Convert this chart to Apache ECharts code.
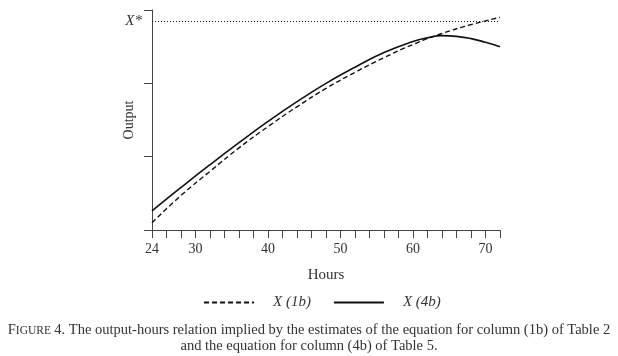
<!DOCTYPE html>
<html><head><meta charset="utf-8">
<script src="https://cdn.jsdelivr.net/npm/echarts@6/dist/echarts.min.js"></script>
<style>html,body{margin:0;padding:0;background:#fff}#c{width:618px;height:356px}</style>
</head><body><div id="c"></div>
<script>
const hoursSolid = [24,28,32,36,40,44,48,52,56,60,62,64,66,68,70,72];
const x4b = [0.26,0.58,0.89,1.19,1.48,1.75,2.00,2.22,2.42,2.57,2.62,2.65,2.64,2.61,2.56,2.50];
const hoursDashed = [24,28,32,36,40,44,48,52,56,60,64,68,72];
const x1b = [0.10,0.47,0.80,1.12,1.41,1.68,1.93,2.15,2.35,2.53,2.68,2.80,2.90];
const xStar = 2.85;
const xLabels = [24,30,40,50,60,70];
const seriesNames = ['X (1b)','X (4b)'];

const serif = '"Liberation Serif","DejaVu Serif",serif';
const chart = echarts.init(document.getElementById('c'));
chart.setOption({
  animation:false,
  backgroundColor:'#fff',
  grid:{left:152,right:118,top:10,bottom:126},
  legend:{
    top:290,left:198,itemWidth:50,itemHeight:10,itemGap:22,
    itemStyle:{opacity:0},
    textStyle:{fontFamily:serif,fontStyle:'italic',fontSize:15,color:'#333',padding:[0,0,0,14]},
    data:seriesNames.map(n=>({name:n}))
  },
  xAxis:{
    type:'value',min:24,max:72,interval:2,
    name:'Hours',nameLocation:'middle',nameGap:38,
    nameTextStyle:{fontFamily:serif,fontSize:15,color:'#333'},
    axisLine:{lineStyle:{color:'#444',width:1}},
    axisTick:{show:true,length:8,lineStyle:{color:'#444'}},
    axisLabel:{fontFamily:serif,fontSize:14,color:'#333',margin:12,
      formatter:v=>xLabels.includes(v)?String(v):''},
    splitLine:{show:false}
  },
  yAxis:{
    type:'value',min:0,max:3,interval:1,
    name:'Output',nameLocation:'middle',nameGap:16,
    nameTextStyle:{fontFamily:serif,fontSize:14,color:'#333'},
    axisLine:{show:true,lineStyle:{color:'#444',width:1}},
    axisTick:{show:true,length:8,lineStyle:{color:'#444'}},
    axisLabel:{show:false},
    splitLine:{show:false}
  },
  series:[
    {name:seriesNames[0],type:'line',smooth:true,symbol:'none',
     data:hoursDashed.map((h,i)=>[h,x1b[i]]),
     lineStyle:{color:'#111',width:1.4,type:[5,3]},itemStyle:{color:'#111'},
     markLine:{silent:true,symbol:'none',
       lineStyle:{color:'#111',width:1.2,type:[1,2]},
       label:{show:true,position:'start',formatter:'X*',fontFamily:serif,fontStyle:'italic',fontSize:15,color:'#333',distance:10},
       data:[{yAxis:xStar}]}
    },
    {name:seriesNames[1],type:'line',smooth:true,symbol:'none',
     data:hoursSolid.map((h,i)=>[h,x4b[i]]),
     lineStyle:{color:'#111',width:1.6,type:'solid'},itemStyle:{color:'#111'}}
  ],
  graphic:[
    {type:'text',left:'center',top:323,style:{
      text:'{a|F}{b|IGURE} {c|4. The output-hours relation implied by the estimates of the equation for column (1b) of Table 2}',
      rich:{a:{fontFamily:serif,fontSize:14.5,fill:'#333'},b:{fontFamily:serif,fontSize:11.5,fill:'#333'},c:{fontFamily:serif,fontSize:14.5,fill:'#333'}}
    }},
    {type:'text',left:'center',top:339,style:{
      text:'and the equation for column (4b) of Table 5.',fontFamily:serif,fontSize:14.5,fill:'#333'}}
  ]
});
</script></body></html>
